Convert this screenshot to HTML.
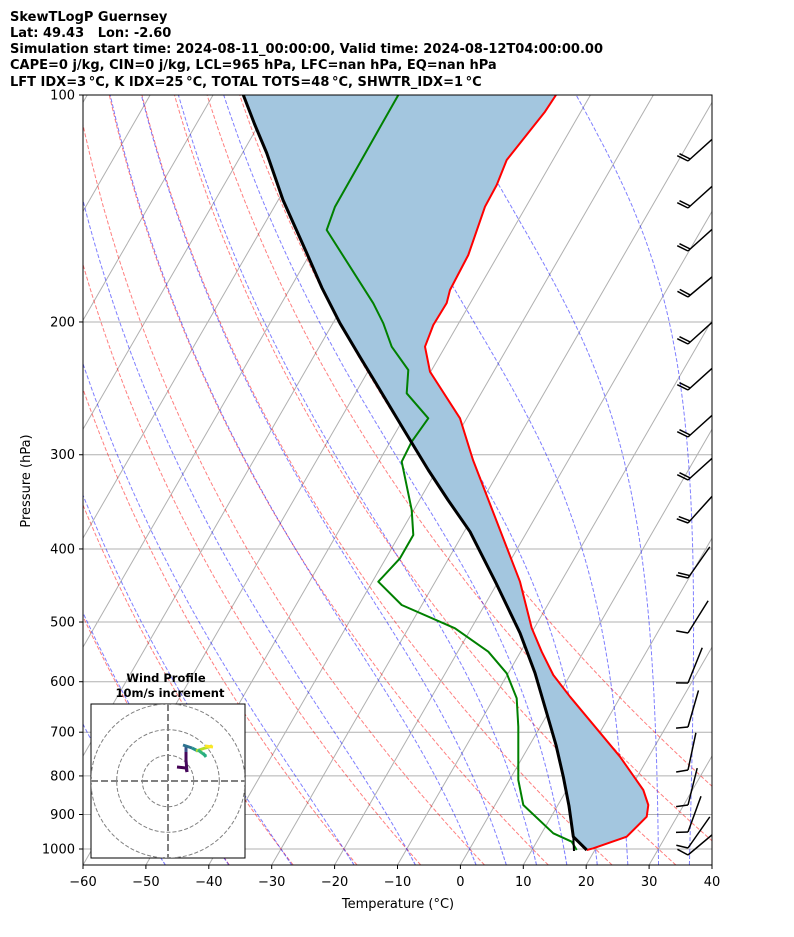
<!DOCTYPE html>
<html><head><meta charset="utf-8"><style>
body{margin:0;background:#fff;}
svg{display:block;font-family:"DejaVu Sans","Liberation Sans",sans-serif;}
</style></head><body>
<svg id="s" width="794" height="937" viewBox="0 0 794 937" xmlns="http://www.w3.org/2000/svg">
<defs><clipPath id="c"><rect x="83" y="95" width="629" height="770"/></clipPath></defs>
<g font-weight="bold" font-size="13" fill="#000">
<text x="10" y="21">SkewTLogP Guernsey</text>
<text x="10" y="37">Lat: 49.43&#160;&#160;&#160;Lon: -2.60</text>
<text x="10" y="53">Simulation start time: 2024-08-11_00:00:00, Valid time: 2024-08-12T04:00:00.00</text>
<text x="10" y="69">CAPE=0 j/kg, CIN=0 j/kg, LCL=965 hPa, LFC=nan hPa, EQ=nan hPa</text>
<text x="10" y="86">LFT IDX</text>
</g>
<g id="bg" clip-path="url(#c)"></g>
<g id="data" clip-path="url(#c)"></g>
<rect x="83" y="95" width="629" height="770" fill="none" stroke="#000" stroke-width="1"/>
<g id="ax" font-size="13"></g>
<text x="398" y="908" font-size="13" text-anchor="middle">Temperature (°C)</text>
<text transform="translate(30,481) rotate(-90)" font-size="13" text-anchor="middle">Pressure (hPa)</text>
<g id="hodo"></g>
</svg>
<script>
var NS="http://www.w3.org/2000/svg";
function el(p,t,a){var e=document.createElementNS(NS,t);for(var k in a)e.setAttribute(k,a[k]);p.appendChild(e);return e;}
function Y(p){return 849+754*Math.log10(p/1000);}
function X(T,y){return 83+(T+60)*6.29+(865-y)*0.57735;}
var bg=document.getElementById('bg'),dat=document.getElementById('data'),ax=document.getElementById('ax');
document.querySelectorAll('text')[4].textContent="LFT IDX=3\u2009\u00B0C, K IDX=25\u2009\u00B0C, TOTAL TOTS=48\u2009\u00B0C, SHWTR_IDX=1\u2009\u00B0C";
var levels=[100,200,300,400,500,600,700,800,900,1000];
levels.forEach(function(p){var y=Y(p);
 el(bg,'line',{x1:83,x2:712,y1:y,y2:y,stroke:'#b0b0b0','stroke-width':1});
 el(ax,'line',{x1:79,x2:83,y1:y,y2:y,stroke:'#000'});
 var t=el(ax,'text',{x:75,y:y+4.5,'text-anchor':'end'});t.textContent=p;});
for(var T=-60;T<=40;T+=10){var x=83+(T+60)*6.29;
 el(ax,'line',{x1:x,x2:x,y1:865,y2:869,stroke:'#000'});
 var t=el(ax,'text',{x:x,y:886,'text-anchor':'middle'});t.textContent=(T<0?'\u2212'+(-T):T);}
for(var T=-200;T<=60;T+=10){el(bg,'line',{x1:X(T,865),y1:865,x2:X(T,95),y2:95,stroke:'#b0b0b0','stroke-width':1});}
var ps=[];for(var i=0;i<=120;i++){ps.push(1050*Math.pow(100/1050,i/120));}
function pl(pts,col,dash,op,w){var d=pts.map(function(q){return q[0].toFixed(1)+','+q[1].toFixed(1)}).join(' ');
 var a={points:d,fill:'none',stroke:col,'stroke-width':w||1};if(dash)a['stroke-dasharray']=dash;if(op)a['stroke-opacity']=op;return el(bg,'polyline',a);}
for(var t0=-40;t0<=50;t0+=10){var pts=ps.map(function(p){var T=(t0+273.15)*Math.pow(p/1000,0.2857)-273.15;var y=Y(p);return [X(T,y),y];});pl(pts,'#ff0000','4,2',0.5);}
function es(Tc){return 6.112*Math.exp(17.67*Tc/(Tc+243.5));}
function dTdp(TK,p){var Tc=TK-273.15,e=es(Tc),rs=0.622*e/(p-e),Lv=2.501e6,Rd=287.04,Cp=1005.7;
 return (Rd*TK+Lv*rs)/(p*(Cp+Lv*Lv*rs*0.622/(Rd*TK*TK)));}
function moist(t0,ptarget){var T=t0+273.15,p=1000,n=200,h=(ptarget-1000)/n;var out=[[p,T]];
 for(var i=0;i<n;i++){var k1=dTdp(T,p),k2=dTdp(T+h*k1/2,p+h/2),k3=dTdp(T+h*k2/2,p+h/2),k4=dTdp(T+h*k3,p+h);T+=h*(k1+2*k2+2*k3+k4)/6;p+=h;out.push([p,T]);}return out;}
var mt=[-50,-40,-30,-20,-10,0,5,10,15,20,25,30,35,40,45];
mt.forEach(function(t0){var up=moist(t0,100),dn=moist(t0,1050);var all=dn.reverse().concat(up.slice(1));
 pl(all.map(function(q){var y=Y(q[0]);return [X(q[1]-273.15,y),y];}),'#0000ff','4,2',0.5);});
function dpl(pts,col,w){return el(dat,'polyline',{points:pts.map(function(q){return q.join(',')}).join(' '),fill:'none',stroke:col,'stroke-width':w,'stroke-linejoin':'round'});}
var red=[[556,95],[545,111.7],[506.7,160],[496.7,185],[485,206.7],[468.3,255],[450,290],[446.7,303],[433.3,325],[425,346.7],[430,371.7],[460,418.3],[473,460],[520,581.7],[531.7,628],[541.7,651.7],[553.3,675],[570,696.7],[620,756.7],[643.3,790],[648.3,805],[646.7,816.7],[626.7,836.7],[593.3,848.3],[586.7,850]];
var blk=[[243.3,95],[254.5,124],[266.7,153],[283,200],[306.7,253],[322,288],[340,323.3],[360,357],[380,390],[404,430],[428.3,470],[448,500],[470,531.7],[496,583],[520,633],[535,673],[546.7,713],[556,745],[563.3,776.7],[569,806],[573.3,836.7],[586.7,850]];
var fill=red.concat(blk.slice().reverse());
el(dat,'polygon',{points:fill.map(function(q){return q.join(',')}).join(' '),fill:'#a3c6df',stroke:'none'});
var grn=[[398.3,95],[335,206.7],[326.7,230],[373.3,303.3],[383.3,323.3],[391.7,346.7],[408.3,370],[406.7,393.3],[428.3,418.3],[411.7,441.7],[401.7,461.7],[411.7,510],[413.3,535],[400,558.3],[378.3,581.7],[401.7,605],[455,628.3],[488.3,651.7],[506.7,673.3],[516.7,698.3],[518.3,726.7],[518.3,780],[523.3,805],[553.3,833.3],[571.7,841.7],[576.7,850]];
dpl(red,'#ff0000',2);dpl(grn,'#008000',2);dpl(blk,'#000000',3);
el(dat,'line',{x1:573.3,y1:836.7,x2:574,y2:851,stroke:'#000','stroke-width':2});
var barbs=[[161,42],[208,42],[251,42],[297,40],[344,42],[390,42],[437,42],[480,42],[523,48],[578,55],[633,58],[683,68],[727,74],[770,78],[805,76],[832,70],[848,55],[855,40]];
barbs.forEach(function(b,i){var y=b[0],a=b[1]*Math.PI/180,x=688,L=38;
 el(dat,'line',{x1:x,y1:y,x2:x+L*Math.cos(a),y2:y-L*Math.sin(a),stroke:'#000','stroke-width':1.5});
 var n=i<10?2:1;for(var k=0;k<n;k++){var bx=x+k*3*Math.cos(a),by=y-k*3*Math.sin(a);
 var ta=a+Math.PI*0.62;el(dat,'line',{x1:bx,y1:by,x2:bx+12*Math.cos(ta),y2:by-12*Math.sin(ta),stroke:'#000','stroke-width':1.5});}});
var h=document.getElementById('hodo');
var tt=el(h,'text',{x:166,y:682,'font-size':11.5,'font-weight':'bold','text-anchor':'middle'});tt.textContent='Wind Profile';
tt=el(h,'text',{x:170,y:697,'font-size':11.5,'font-weight':'bold','text-anchor':'middle'});tt.textContent='10m/s increment';
el(h,'rect',{x:91,y:704,width:154,height:154,fill:'#fff',stroke:'#000','stroke-width':1});
var hc=document.createElementNS(NS,'clipPath');hc.id='hc';el(hc,'rect',{x:91,y:704,width:154,height:154});h.appendChild(hc);
var hg=el(h,'g',{'clip-path':'url(#hc)'});
[25.7,51.3,77].forEach(function(r){el(hg,'circle',{cx:168,cy:781,r:r,fill:'none',stroke:'#808080','stroke-dasharray':'4,2','stroke-width':1});});
el(hg,'line',{x1:91,x2:245,y1:781,y2:781,stroke:'#808080','stroke-width':2,'stroke-dasharray':'7,3'});
el(hg,'line',{x1:168,x2:168,y1:704,y2:858,stroke:'#808080','stroke-width':2,'stroke-dasharray':'7,3'});
function hl(pts,c){el(hg,'polyline',{points:pts.map(function(q){return q.join(',')}).join(' '),fill:'none',stroke:c,'stroke-width':3,'stroke-linejoin':'round'});}
hl([[177,767],[186,768],[187,772]],'#440154');hl([[187,772],[186,760],[186,752]],'#46085c');hl([[186,752],[186,746]],'#3b528b');
hl([[183,745],[192,748]],'#2c728e');hl([[192,748],[198,751]],'#21918c');hl([[196,751],[205,748],[212,746]],'#b5de2b');
hl([[198,750],[206,756]],'#35b779');hl([[205,746],[213,747]],'#fde725');hl([[203,753],[206,757]],'#27ad81');
</script>
</body></html>
